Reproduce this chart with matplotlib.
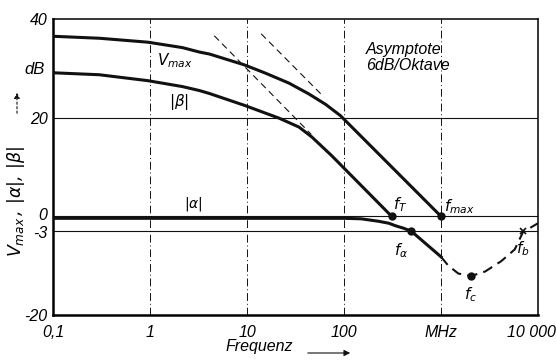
import matplotlib
matplotlib.use("Agg")
import matplotlib.pyplot as plt
from matplotlib.patches import FancyArrowPatch
from matplotlib.transforms import ScaledTranslation

# (f in MHz, values in dB)
vmax_f = [0.1, 0.3, 0.95, 2.16, 3.23, 4.1, 9.4, 15.6, 27.1, 43.5, 64.6, 92, 1000]
vmax_db = [36.5, 36.1, 35.3, 34.2, 33.3, 32.9, 30.7, 29.0, 27.0, 24.8, 22.7, 20.4, 0]

beta_f = [0.1, 0.3, 0.95, 2.16, 3.23, 4.1, 9.4, 21.4, 34.3, 46.5, 74.6, 310]
beta_db = [29.1, 28.7, 27.5, 26.3, 25.5, 24.9, 22.5, 19.9, 18.1, 16.1, 12.3, 0]

alpha_f = [0.1, 100, 150, 227, 290, 338, 410, 493, 1000]
alpha_db = [-0.4, -0.4, -0.5, -1.0, -1.4, -1.9, -2.4, -3, -8.2]

ext_f = [1000, 1190, 1510, 2040, 2840, 4170, 5760, 7000, 10000]
ext_db = [-8.2, -10, -11.6, -12.1, -11.2, -9.1, -6.7, -3.2, -1.4]

asym_beta_f = [4.6, 46]
asym_beta_db = [36.6, 16.6]
asym_vmax_f = [14, 62]
asym_vmax_db = [37, 24.2]

# points marked on the curves
pt_f = [310, 1000, 493, 2040]
pt_db = [0, 0, -3, -12.1]
fb_f = [7000]
fb_db = [-3]

xticks = [0.1, 1, 10, 100, 1000, 10000]
xlabels = ["0,1", "1", "10", "100", "MHz", "10 000"]
yticks = [-20, -3, 0, 20, 40]
ylabels = ["-20", "-3", "0", "20", "40"]

plt.rcParams["font.family"] = ["Liberation Sans", "DejaVu Sans"]
plt.rcParams["font.style"] = "italic"
plt.rcParams["mathtext.fontset"] = "dejavusans"
ink = "#111111"

fig = plt.figure(figsize=(5.56, 3.61), dpi=100)
ax = fig.add_axes([53 / 556, 1 - 315 / 361, (538 - 53) / 556, (315 - 19) / 361])

ax.set_xscale("log")
ax.set_xlim(0.1, 10000)
ax.set_ylim(-20, 40)

# grid: dash-dot verticals, solid horizontals
for f in xticks[1:-1]:
    ax.axvline(f, color=ink, lw=0.7, ls=(0, (8, 3, 1, 3)), zorder=1)
for d in [20, 0, -3]:
    ax.axhline(d, color=ink, lw=0.8, zorder=1)

ax.plot(vmax_f, vmax_db, color=ink, lw=2.2, zorder=3, solid_joinstyle="round")
ax.plot(beta_f, beta_db, color=ink, lw=2.2, zorder=3, solid_joinstyle="round")
ax.plot(alpha_f, alpha_db, color=ink, lw=2.2, zorder=3, solid_joinstyle="round")
ax.plot(ext_f, ext_db, color=ink, lw=1.5, ls=(0, (5, 3)), zorder=3)
ax.plot(asym_beta_f, asym_beta_db, color=ink, lw=0.8, ls=(0, (6, 4)), zorder=2)
ax.plot(asym_vmax_f, asym_vmax_db, color=ink, lw=0.8, ls=(0, (6, 4)), zorder=2)
ax.plot(pt_f, pt_db, "o", color=ink, ms=5, zorder=4)
ax.plot(fb_f, fb_db, "x", color=ink, ms=4, mew=1.2, zorder=4)

ax.set_xticks(xticks)
ax.set_xticklabels(xlabels)
ax.minorticks_off()
ax.set_yticks(yticks)
ax.set_yticklabels(ylabels)
ax.tick_params(length=0, labelsize=11.5)
ax.tick_params(axis="x", pad=7)
ax.tick_params(axis="y", pad=4)

# keep the last x label inside the figure, nudge 0 / -3 apart
last = ax.get_xticklabels()[-1]
last.set_horizontalalignment("right")
last.set_transform(last.get_transform() + ScaledTranslation(18 / 100, 0, fig.dpi_scale_trans))
ylab = ax.get_yticklabels()
ylab[2].set_transform(ylab[2].get_transform() + ScaledTranslation(0, 2 / 100, fig.dpi_scale_trans))
ylab[1].set_transform(ylab[1].get_transform() + ScaledTranslation(0, -1 / 100, fig.dpi_scale_trans))

for s in ["left", "bottom"]:
    ax.spines[s].set_linewidth(1.8)
for s in ["top", "right"]:
    ax.spines[s].set_linewidth(1.1)

# curve labels
ax.text(1.8, 31.6, r"$V_{max}$", fontsize=11, ha="center", va="center")
ax.text(2.0, 23.2, r"$|\beta|$", fontsize=11, ha="center", va="center")
ax.text(2.8, 2.6, r"$|\alpha|$", fontsize=10, ha="center", va="center")
ax.text(168, 32.2, "Asymptote\n6dB/Oktave", fontsize=11.5, ha="left", va="center",
        linespacing=1.1)
ax.text(376, 2.4, r"$f_T$", fontsize=11, ha="center", va="center")
ax.text(1550, 2.0, r"$f_{max}$", fontsize=11, ha="center", va="center")
ax.text(392, -6.9, r"$f_\alpha$", fontsize=11, ha="center", va="center")
ax.text(2000, -15.8, r"$f_c$", fontsize=11, ha="center", va="center")
ax.text(7020, -6.5, r"$f_b$", fontsize=11, ha="center", va="center")

# axis titles
fig.text(35 / 556, 1 - 69 / 361, "dB", fontsize=12, ha="center", va="center")
fig.text(16 / 556, 1 - 202 / 361, r"$V_{max}\,,\,|\alpha|,\,|\beta|$", fontsize=12.5,
         rotation=90, ha="center", va="center")
fig.patches.append(FancyArrowPatch(
    (17 / 556, 1 - 116 / 361), (17 / 556, 1 - 90 / 361), transform=fig.transFigure,
    arrowstyle="-|>", mutation_scale=8, lw=0.8, ls=(0, (2, 2)), color=ink))
fig.text(259 / 556, 1 - 347 / 361, "Frequenz", fontsize=11.5, ha="center", va="center")
fig.patches.append(FancyArrowPatch(
    (305 / 556, 1 - 353 / 361), (353 / 556, 1 - 353 / 361), transform=fig.transFigure,
    arrowstyle="-|>", mutation_scale=9, lw=0.8, color=ink))

fig.savefig("out.png", dpi=100)
